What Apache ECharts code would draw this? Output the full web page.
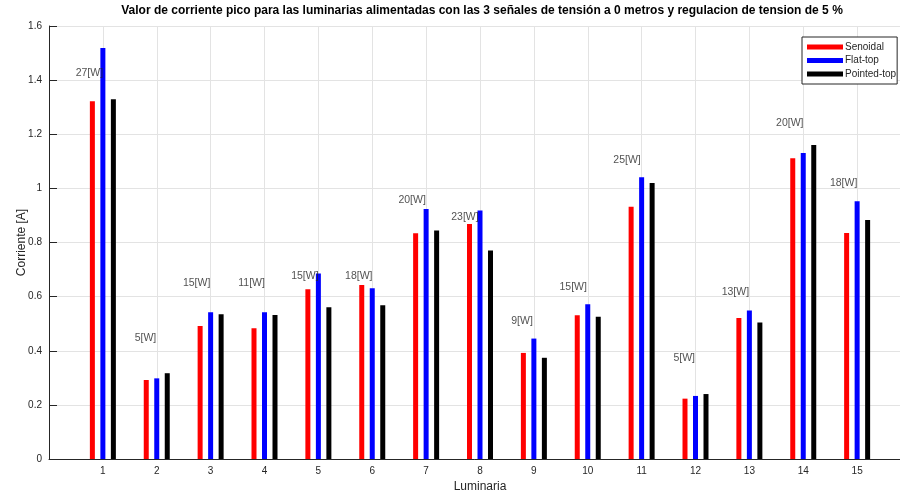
<!DOCTYPE html>
<html>
<head>
<meta charset="utf-8">
<script src="https://cdn.jsdelivr.net/npm/echarts@6/dist/echarts.min.js"></script>
<style>
html,body{margin:0;padding:0;background:#fff;}
#chart{width:900px;height:494px;}
</style>
</head>
<body>
<div id="chart"></div>
<script>
// Luminaria index (x positions)
const luminarias = [1,2,3,4,5,6,7,8,9,10,11,12,13,14,15];
// Peak current [A] per signal
const senoidal   = [1.322,0.292,0.491,0.483,0.627,0.643,0.834,0.868,0.392,0.531,0.932,0.223,0.521,1.111,0.835];
const flatTop    = [1.519,0.298,0.542,0.542,0.685,0.631,0.924,0.918,0.445,0.572,1.041,0.233,0.549,1.131,0.952];
const pointedTop = [1.329,0.317,0.535,0.532,0.561,0.568,0.844,0.770,0.374,0.526,1.020,0.240,0.504,1.160,0.883];
// Power annotations (text, x, y in data units)
const wLabels = ['27[W]','5[W]','15[W]','11[W]','15[W]','18[W]','20[W]','23[W]','9[W]','15[W]','25[W]','5[W]','13[W]','20[W]','18[W]'];
const wLabelX = [0.75,1.79,2.74,3.76,4.75,5.75,6.74,7.72,8.78,9.73,10.73,11.79,12.74,13.75,14.75];
const wLabelY = [1.426,0.447,0.650,0.650,0.676,0.676,0.957,0.894,0.510,0.636,1.105,0.373,0.617,1.242,1.020];
const seriesNames = ['Senoidal','Flat-top','Pointed-top'];
const titleText = 'Valor de corriente pico para las luminarias alimentadas con las 3 señales de tensión a 0 metros y regulacion de tension de 5 %';

const FONT = '"Liberation Sans", Arial, Helvetica, sans-serif';
const AX = '#262626';

function pairs(vals){ return luminarias.map((x,i)=>[x, vals[i]]); }

const chart = echarts.init(document.getElementById('chart'), null, {renderer:'canvas'});
const barCommon = {
  type:'bar', barWidth:5, barGap:'110%', animation:false
};
chart.setOption({
  animation:false,
  textStyle:{fontFamily:FONT},
  graphic:[{
    type:'text', x:482, y:11,
    style:{text:titleText, fontFamily:FONT, fontSize:12, fontWeight:'bold', fill:'#000', textAlign:'center', textVerticalAlign:'middle'}
  }],
  legend:{
    data:seriesNames, orient:'vertical', left:802, top:37,
    icon:'rect', itemWidth:36, itemHeight:5, itemGap:1.5,
    padding:[4,1,4,5],
    backgroundColor:'#fff', borderColor:AX, borderWidth:1,
    textStyle:{fontFamily:FONT, fontSize:10, color:AX, lineHeight:12, padding:[0,0,0,-3]},
    selectedMode:false
  },
  grid:{left:49, top:26, width:862, height:433, containLabel:false, outerBoundsMode:'none'},
  xAxis:{
    type:'value', min:0, max:16, interval:1,
    name:'Luminaria', nameLocation:'middle', nameGap:22, nameMoveOverlap:false,
    nameTextStyle:{fontFamily:FONT, fontSize:12, color:AX},
    axisLine:{show:true, onZero:false, lineStyle:{color:AX, width:1}},
    axisTick:{show:true, inside:true, length:6, lineStyle:{color:AX}},
    axisLabel:{fontFamily:FONT, fontSize:10, color:AX, margin:7,
      formatter:v => (v>=1 && v<=15) ? String(v) : ''},
    splitLine:{show:true, lineStyle:{color:'#e3e3e3', width:1}}
  },
  yAxis:{
    type:'value', min:0, max:1.6, interval:0.2,
    name:'Corriente [A]', nameLocation:'middle', nameGap:21, nameMoveOverlap:false,
    nameTextStyle:{fontFamily:FONT, fontSize:12, color:AX},
    axisLine:{show:true, lineStyle:{color:AX, width:1}},
    axisTick:{show:true, inside:true, length:8, lineStyle:{color:AX}},
    axisLabel:{fontFamily:FONT, fontSize:10, color:AX, margin:7,
      formatter:v => String(Math.round(v*10)/10)},
    splitLine:{show:true, lineStyle:{color:'#e3e3e3', width:1}}
  },
  series:[
    Object.assign({}, barCommon, {name:seriesNames[0], data:pairs(senoidal), itemStyle:{color:'#ff0000'}}),
    Object.assign({}, barCommon, {name:seriesNames[1], data:pairs(flatTop), itemStyle:{color:'#0000ff'}}),
    Object.assign({}, barCommon, {name:seriesNames[2], data:pairs(pointedTop), itemStyle:{color:'#000000'}}),
    {
      type:'scatter', name:'wlabels', symbolSize:0, silent:true, z:5,
      data:wLabels.map((t,i)=>[wLabelX[i], wLabelY[i], t]),
      label:{show:true, position:'inside', formatter:p=>p.value[2],
        fontFamily:FONT, fontSize:10.5, color:AX}
    }
  ]
});
</script>
</body>
</html>
